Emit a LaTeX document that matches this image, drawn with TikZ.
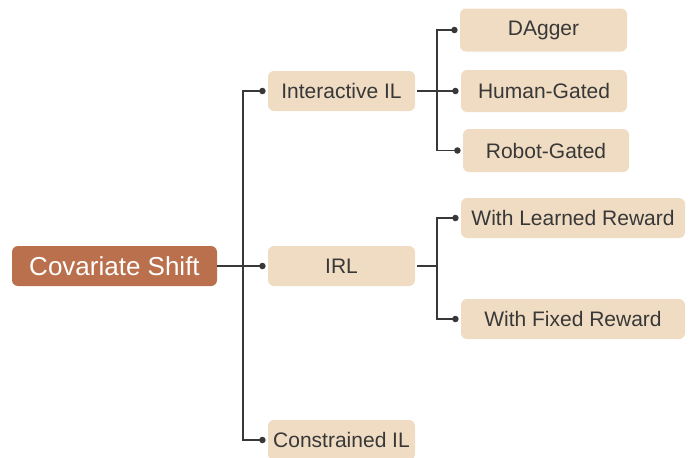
\documentclass[tikz,border=0pt]{standalone}
\usepackage{fontspec}
\setmainfont{Liberation Sans}
\usetikzlibrary{arrows.meta}
\definecolor{rootfill}{HTML}{BA704C}
\definecolor{leaffill}{HTML}{F0DCC2}
\definecolor{ink}{HTML}{383838}

\begin{document}
\begin{tikzpicture}[x=0.5pt, y=-0.5pt,
    box/.style={fill=leaffill, rounded corners=3pt, text=ink, font=\fontsize{10.5}{12}\selectfont, minimum height=20pt, inner sep=0pt, outer sep=1.2pt},
    rootbox/.style={fill=rootfill, rounded corners=3pt, text=white, font=\fontsize{13}{15}\selectfont, minimum height=20pt, minimum width=102.5pt, inner sep=0pt},
    link/.style={draw=ink, line width=0.75pt, -{Circle[length=3.2pt]}}]
    \useasboundingbox (0,0) rectangle (689,457);
    % nodes
    \node [rootbox] (shift) at (114.5,266) {Covariate Shift};
    \node [box, minimum width=73.5pt] (inter) at (341.5,91) {Interactive IL};
    \node [box, minimum width=73.5pt] (irl) at (341.5,266) {IRL};
    \node [box, minimum width=73.5pt] (constr) at (341.5,440) {Constrained IL};
    \node [box, minimum width=83.5pt, minimum height=21.5pt] (dagger) at (543.5,30) {DAgger};
    \node [box, minimum width=83pt, minimum height=21pt] (human) at (544,91) {Human-Gated};
    \node [box, minimum width=83pt, minimum height=21.5pt] (robot) at (546,150.5) {Robot-Gated};
    \node [box, minimum width=112pt] (learned) at (573,218) {With Learned Reward};
    \node [box, minimum width=112pt] (fixed) at (573,319) {With Fixed Reward};
    % trunk lines
    \coordinate (trunk) at (243,0);
    \coordinate (twig) at (437,0);
    \draw [link] (shift.east) -- (shift.east -| trunk) |- (inter.west);
    \draw [link] (shift.east) -- (irl.west);
    \draw [link] (shift.east -| trunk) |- (constr.west);
    \draw [link] (inter.east) -- (inter.east -| twig) |- (dagger.west);
    \draw [link] (inter.east) -- (human.west);
    \draw [link] (inter.east -| twig) |- (robot.west);
    \draw [link] (irl.east) -- (irl.east -| twig) |- (learned.west);
    \draw [link] (irl.east -| twig) |- (fixed.west);
\end{tikzpicture}
\end{document}
